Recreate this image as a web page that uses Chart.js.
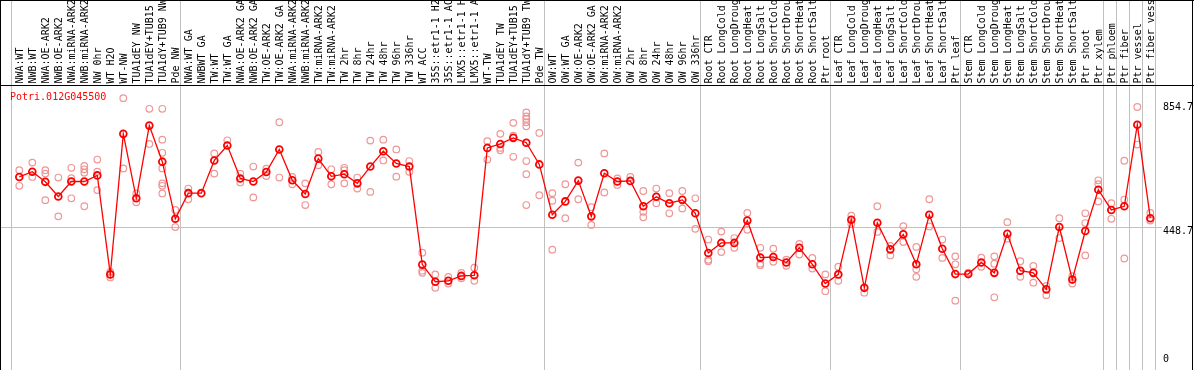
<!DOCTYPE html>
<html><head><meta charset="utf-8">
<script src="https://cdn.jsdelivr.net/npm/chart.js@4/dist/chart.umd.min.js"></script>
<style>html,body{margin:0;padding:0;background:#fff;}#wrap{width:1194px;height:370px;position:relative;}</style>
</head><body><div id="wrap"><canvas id="c"></canvas></div>
<script>
const geneId = "Potri.012G045500";

const categories = [
"NWA:WT","NWB:WT","NWA:OE-ARK2","NWB:OE-ARK2","NWA:miRNA-ARK2","NWB:miRNA-ARK2","NW 0hr","WT H2O","WT-NW","TUA1dEY NW","TUA1dEY+TUB15 NW","TUA1dY+TUB9 NW","Pde NW",
"NWA:WT GA","NWBWT GA","TW:WT","TW:WT GA","NWA:OE-ARK2 GA","NWB:OE-ARK2 GA","TW:OE-ARK2","TW:OE-ARK2 GA","NWA:miRNA-ARK2 GA","NWB:miRNA-ARK2 GA","TW:miRNA-ARK2","TW:miRNA-ARK2 GA","TW 2hr","TW 8hr","TW 24hr","TW 48hr","TW 96hr","TW 336hr","WT ACC","35S::etr1-1 H2O","35S::etr1-1 ACC","LMX5::etr1-1 H2O","LMX5::etr1-1 ACC","WT-TW","TUA1dEY TW","TUA1dEY+TUB15 TW","TUA1dY+TUB9 TW","Pde TW",
"OW:WT","OW:WT GA","OW:OE-ARK2","OW:OE-ARK2 GA","OW:miRNA-ARK2","OW:miRNA-ARK2 GA","OW 2hr","OW 8hr","OW 24hr","OW 48hr","OW 96hr","OW 336hr",
"Root CTR","Root LongCold","Root LongDrought","Root LongHeat","Root LongSalt","Root ShortCold","Root ShortDrought","Root ShortHeat","Root ShortSalt","Ptr root",
"Leaf CTR","Leaf LongCold","Leaf LongDrought","Leaf LongHeat","Leaf LongSalt","Leaf ShortCold","Leaf ShortDrought","Leaf ShortHeat","Leaf ShortSalt","Ptr leaf",
"Stem CTR","Stem LongCold","Stem LongDrought","Stem LongHeat","Stem LongSalt","Stem ShortCold","Stem ShortDrought","Stem ShortHeat","Stem ShortSalt","Ptr shoot",
"Ptr xylem","Ptr phloem","Ptr fiber","Ptr vessel","Ptr fiber vessel"
];

const meanValues = [
613,630,597,549,598,598,618,294,754,543,781,663,476,
560,560,667,716,608,598,629,703,602,557,673,615,622,592,647,697,657,647,326,270,273,289,291,708,721,741,725,654,
489,533,601,484,625,598,600,517,548,527,538,494,
364,397,397,470,349,351,333,381,327,264,
294,473,250,463,376,425,327,489,378,295,
295,333,299,427,306,299,245,449,277,436,
571,505,517,784,478
];

const replicates = [
[635,584],[660,613],[635,624,537],[611,484],[643,609,543],[649,638,627,517],[670,630,570],[302,284],[871,641],[559,530],[836,721],[836,735,692,641,592,584,559],[505,449],
[575,540],[],[690,624],[733],[624,595],[647,546],[640,616],[792,611],[613,589],[592,521],[695,651],[638,589],[643,635,592],[611,575],[732,564],[735,667],[703,614],[665,630],[365,306,299],[294,250],[286,264],[299,281],[316,273],[730,670],[754,708,700],[790,748,679],[824,811,803,792,779,665,622,521],[757,553],
[560,535,375],[589,478],[660,540],[514,456],[690,562],[608,587],[613],[567,499,481],[575,527],[560,494],[567,510],[543,443],
[408,342,337],[434,367],[413,381],[495,440],[381,329,324],[378,335],[342,322],[394,359],[348,313],[294,239],
[319,273],[486,459],[234],[517,433],[387,356],[452,400],[384,311,286],[540,451],[408,348],[353,327,208],
[300],[349,319],[353,329,219],[465,411],[337,286],[322,267],[256,226],[478,413],[288,264],[494,462,356],
[602,589,533],[527,476],[666,539,346],[842,719],[495,470]
];

const yTickValues = [854.7, 448.7, 0];
const yGridValues = [448.7];
// index (0-based) after which a group separator line is drawn
const groupEnds = [-1, 12, 40, 52, 62, 72, 83, 84, 85, 86, 87];

const mainColor = '#ff0000';
const repColor = 'rgba(238,145,145,0.95)';
const gridColor = '#c0c0c0';
const monoFont = "10px 'DejaVu Sans Mono', 'Liberation Mono', monospace";

const repPoints = [];
replicates.forEach((arr, i) => arr.forEach(v => repPoints.push({x: i, y: v})));
const meanPoints = meanValues.map((v, i) => ({x: i, y: v}));

const decor = {
  id: 'decor',
  beforeDatasetsDraw(chart) {
    const ctx = chart.ctx, xs = chart.scales.x, ys = chart.scales.y;
    const H = chart.height;
    ctx.save();
    ctx.strokeStyle = gridColor;
    ctx.lineWidth = 1;
    groupEnds.forEach(k => {
      const px = Math.round(xs.getPixelForValue(k + 0.36)) + 0.5;
      ctx.beginPath(); ctx.moveTo(px, 0); ctx.lineTo(px, H); ctx.stroke();
    });
    yGridValues.forEach(v => {
      const py = Math.round(ys.getPixelForValue(v)) + 0.5;
      ctx.beginPath(); ctx.moveTo(0, py); ctx.lineTo(1162, py); ctx.stroke();
    });
    ctx.restore();
  },
  afterDraw(chart) {
    const ctx = chart.ctx, xs = chart.scales.x, ys = chart.scales.y;
    const W = chart.width, H = chart.height;
    const top = chart.chartArea.top;
    ctx.save();
    ctx.strokeStyle = '#000';
    ctx.lineWidth = 1;
    ctx.beginPath();
    ctx.moveTo(0.5, 0); ctx.lineTo(0.5, H);
    ctx.moveTo(0, 0.5); ctx.lineTo(W, 0.5);
    ctx.moveTo(W - 1.5, 0); ctx.lineTo(W - 1.5, H);
    ctx.moveTo(0, top - 0.5); ctx.lineTo(W, top - 0.5);
    ctx.stroke();
    ctx.font = monoFont;
    ctx.fillStyle = '#000';
    ctx.textAlign = 'left';
    ctx.textBaseline = 'alphabetic';
    categories.forEach((lab, i) => {
      const px = xs.getPixelForValue(i);
      ctx.save();
      ctx.translate(px + 3.5, top - 2.5);
      ctx.rotate(-Math.PI / 2);
      ctx.fillText(lab, 0, 0);
      ctx.restore();
    });
    yTickValues.forEach(v => {
      const py = ys.getPixelForValue(v);
      ctx.textBaseline = v === 0 ? 'bottom' : 'top';
      ctx.fillText(String(v), 1163, v === 0 ? py : py - 1);
    });
    ctx.fillStyle = mainColor;
    ctx.textBaseline = 'top';
    ctx.fillText(geneId, 10, top + 6);
    ctx.restore();
  }
};

new Chart(document.getElementById('c'), {
  type: 'scatter',
  data: {
    datasets: [
      { data: repPoints, showLine: false, pointStyle: 'circle', pointRadius: 3.3, pointBorderWidth: 1.2,
        pointBorderColor: repColor, pointBackgroundColor: 'rgba(0,0,0,0)', order: 2 },
      { data: meanPoints, showLine: true, borderColor: mainColor, borderWidth: 1.3, tension: 0,
        pointStyle: 'circle', pointRadius: 3.4, pointBorderWidth: 1.8, pointBorderColor: mainColor,
        pointBackgroundColor: 'rgba(0,0,0,0)', order: 1 }
    ]
  },
  options: {
    responsive: true, maintainAspectRatio: false, animation: false, devicePixelRatio: 1,
    layout: { padding: { left: 11, right: 38, top: 86, bottom: 3.6 } },
    plugins: { legend: { display: false }, tooltip: { enabled: false } },
    scales: {
      x: { type: 'linear', min: -0.6385, max: 87.438, display: false },
      y: { type: 'linear', min: 0, max: 910.7, display: false }
    }
  },
  plugins: [decor]
});
</script>
</body></html>
